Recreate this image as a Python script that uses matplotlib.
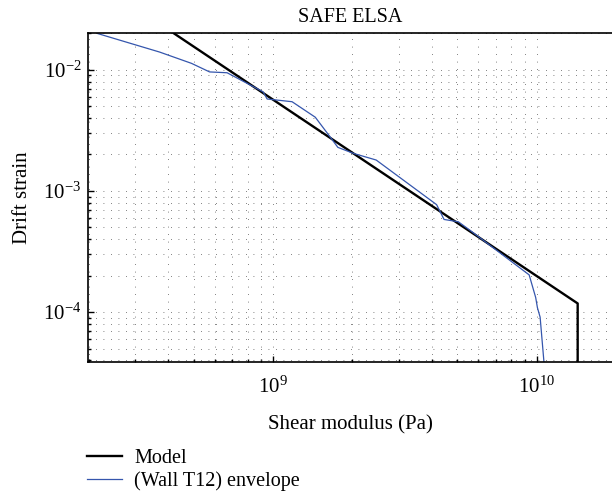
import matplotlib
matplotlib.use('Agg')
import matplotlib.pyplot as plt
from matplotlib.ticker import LogLocator, LogFormatterMathtext, NullFormatter

plt.rcParams['font.family'] = ['Liberation Serif', 'DejaVu Serif']
plt.rcParams['mathtext.fontset'] = 'stix'

# model: power law then vertical cut-off
model_g = [4.2e8, 1.43e10, 1.43e10]
model_strain = [2.0e-2, 1.18e-4, 3.0e-5]

# measured envelope, wall T12
wall_g = [2.16e8, 3.71e8, 4.90e8, 5.74e8, 6.69e8, 9.16e8, 9.49e8, 1.18e9,
          1.445e9, 1.65e9, 1.76e9, 2.02e9, 2.46e9, 4.17e9, 4.45e9, 5.04e9,
          5.61e9, 9.36e9, 9.91e9, 1.006e10, 1.03e10, 1.066e10]
wall_strain = [1.99e-2, 1.40e-2, 1.13e-2, 9.6e-3, 9.45e-3, 6.58e-3, 5.74e-3, 5.45e-3,
               4.06e-3, 2.77e-3, 2.29e-3, 2.04e-3, 1.80e-3, 7.71e-4, 5.82e-4, 5.57e-4,
               4.70e-4, 2.03e-4, 1.32e-4, 1.09e-4, 9.1e-5, 3.8e-5]

fig = plt.figure(figsize=(6.12, 4.94), dpi=100)
ax = fig.add_axes([0.1443, 0.2678, 0.8557, 0.6648])

ax.plot(model_g, model_strain, color='black', lw=1.7, label='Model')
ax.plot(wall_g, wall_strain, color='#3556ad', lw=0.9, label='(Wall T12) envelope')

ax.set_xscale('log')
ax.set_yscale('log')
ax.set_xlim(1.99e8, 1.93e10)
ax.set_ylim(3.9e-5, 2.0e-2)

ax.xaxis.set_major_locator(LogLocator(base=10, numticks=10))
ax.xaxis.set_minor_locator(LogLocator(base=10, subs=range(2, 10), numticks=20))
ax.yaxis.set_major_locator(LogLocator(base=10, numticks=10))
ax.yaxis.set_minor_locator(LogLocator(base=10, subs=range(2, 10), numticks=20))
ax.xaxis.set_major_formatter(LogFormatterMathtext())
ax.yaxis.set_major_formatter(LogFormatterMathtext())
ax.xaxis.set_minor_formatter(NullFormatter())
ax.yaxis.set_minor_formatter(NullFormatter())

ax.grid(True, which='both', linestyle=(0, (1, 8)), lw=0.6, color='0.35')
ax.tick_params(which='both', direction='in', top=False, right=False, labelsize=15, width=1)
ax.tick_params(which='major', length=4)
ax.tick_params(which='minor', length=2.5)
ax.tick_params(axis='x', which='major', pad=11)
ax.tick_params(axis='y', which='major', pad=5)
ax.spines['right'].set_visible(False)
for s in ['left', 'bottom', 'top']:
    ax.spines[s].set_linewidth(1.2)

ax.set_title('SAFE ELSA', fontsize=14.5, pad=8)
ax.set_xlabel('Shear modulus (Pa)', fontsize=15, labelpad=12)
ax.set_ylabel('Drift strain', fontsize=15, labelpad=8)

fig.legend(loc='upper left', bbox_to_anchor=(0.142, 0.092), frameon=False,
           fontsize=14.5, handlelength=1.75, handletextpad=0.6, labelspacing=0.2,
           borderpad=0, borderaxespad=0)

fig.savefig('out.png', dpi=100)
